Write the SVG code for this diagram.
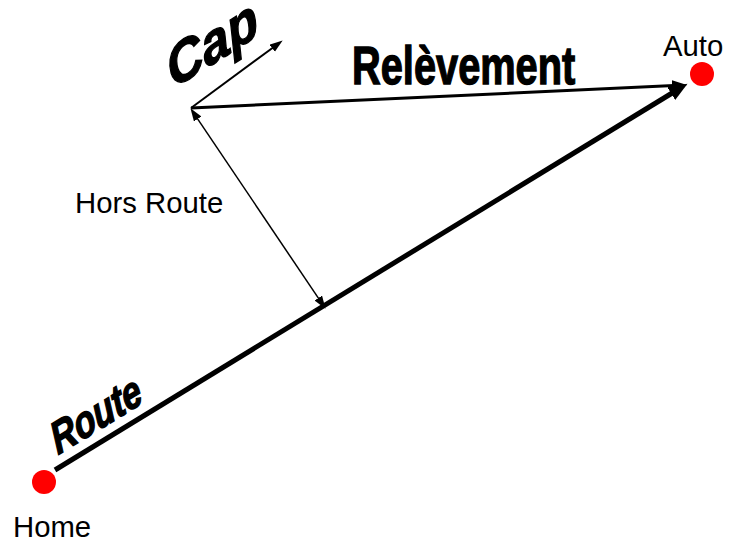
<svg xmlns="http://www.w3.org/2000/svg" width="736" height="544" viewBox="0 0 736 544">
<style>
.lbl{font-family:"Liberation Sans",Arial,sans-serif;font-size:29.3px;fill:#000}
.wa{font-family:"Liberation Sans",Arial,sans-serif;font-weight:bold;fill:#000;stroke:#000;stroke-width:1}
.ln{stroke:#000;fill:none}
.dot{fill:#FF0000}
</style>
<defs>
<marker id="ahBig" markerUnits="userSpaceOnUse" markerWidth="20" markerHeight="16" refX="2" refY="7.5" orient="auto"><path d="M0,0 L19,7.5 L0,15 z" fill="#000"/></marker>
<marker id="ahMid" markerUnits="userSpaceOnUse" markerWidth="16" markerHeight="12" refX="2" refY="5.5" orient="auto"><path d="M0,0 L15,5.5 L0,11 z" fill="#000"/></marker>
<marker id="ahSm" markerUnits="userSpaceOnUse" markerWidth="14" markerHeight="10" refX="2" refY="4.5" orient="auto-start-reverse"><path d="M0,0 L13,4.5 L0,9 z" fill="#000"/></marker>
</defs>
<g id="connectors">
<line id="route" class="ln" x1="55" y1="470" x2="673" y2="92.5" stroke-width="5" marker-end="url(#ahBig)"/>
<line id="releve" class="ln" x1="191" y1="108" x2="674" y2="85.6" stroke-width="3" marker-end="url(#ahMid)"/>
<line id="cap" class="ln" x1="191" y1="108" x2="273.8" y2="47" stroke-width="2" marker-end="url(#ahSm)"/>
<line id="horsroute" class="ln" x1="196.6" y1="117.3" x2="319.4" y2="299.7" stroke-width="1.5" marker-start="url(#ahSm)" marker-end="url(#ahSm)"/>
</g>
<g id="home"><circle class="dot" cx="44" cy="482" r="12"/><text class="lbl" x="13" y="537">Home</text></g>
<g id="auto"><circle class="dot" cx="702" cy="74" r="12"/><text class="lbl" x="663" y="56">Auto</text></g>
<g id="label-horsroute"><text class="lbl" x="75" y="213">Hors Route</text></g>
<g id="label-releve"><text class="wa" font-size="39" transform="translate(352,84) scale(1.02,1.38)">Relèvement</text></g>
<g id="label-cap"><text class="wa" font-style="italic" font-size="40" transform="translate(173,89) rotate(-32) skewX(-16) scale(1.38,1.33)">Cap</text></g>
<g id="label-route"><text class="wa" font-style="italic" font-size="31" transform="translate(58,455) rotate(-31.4) skewX(-10) scale(1.16,1.4)">Route</text></g>
</svg>
